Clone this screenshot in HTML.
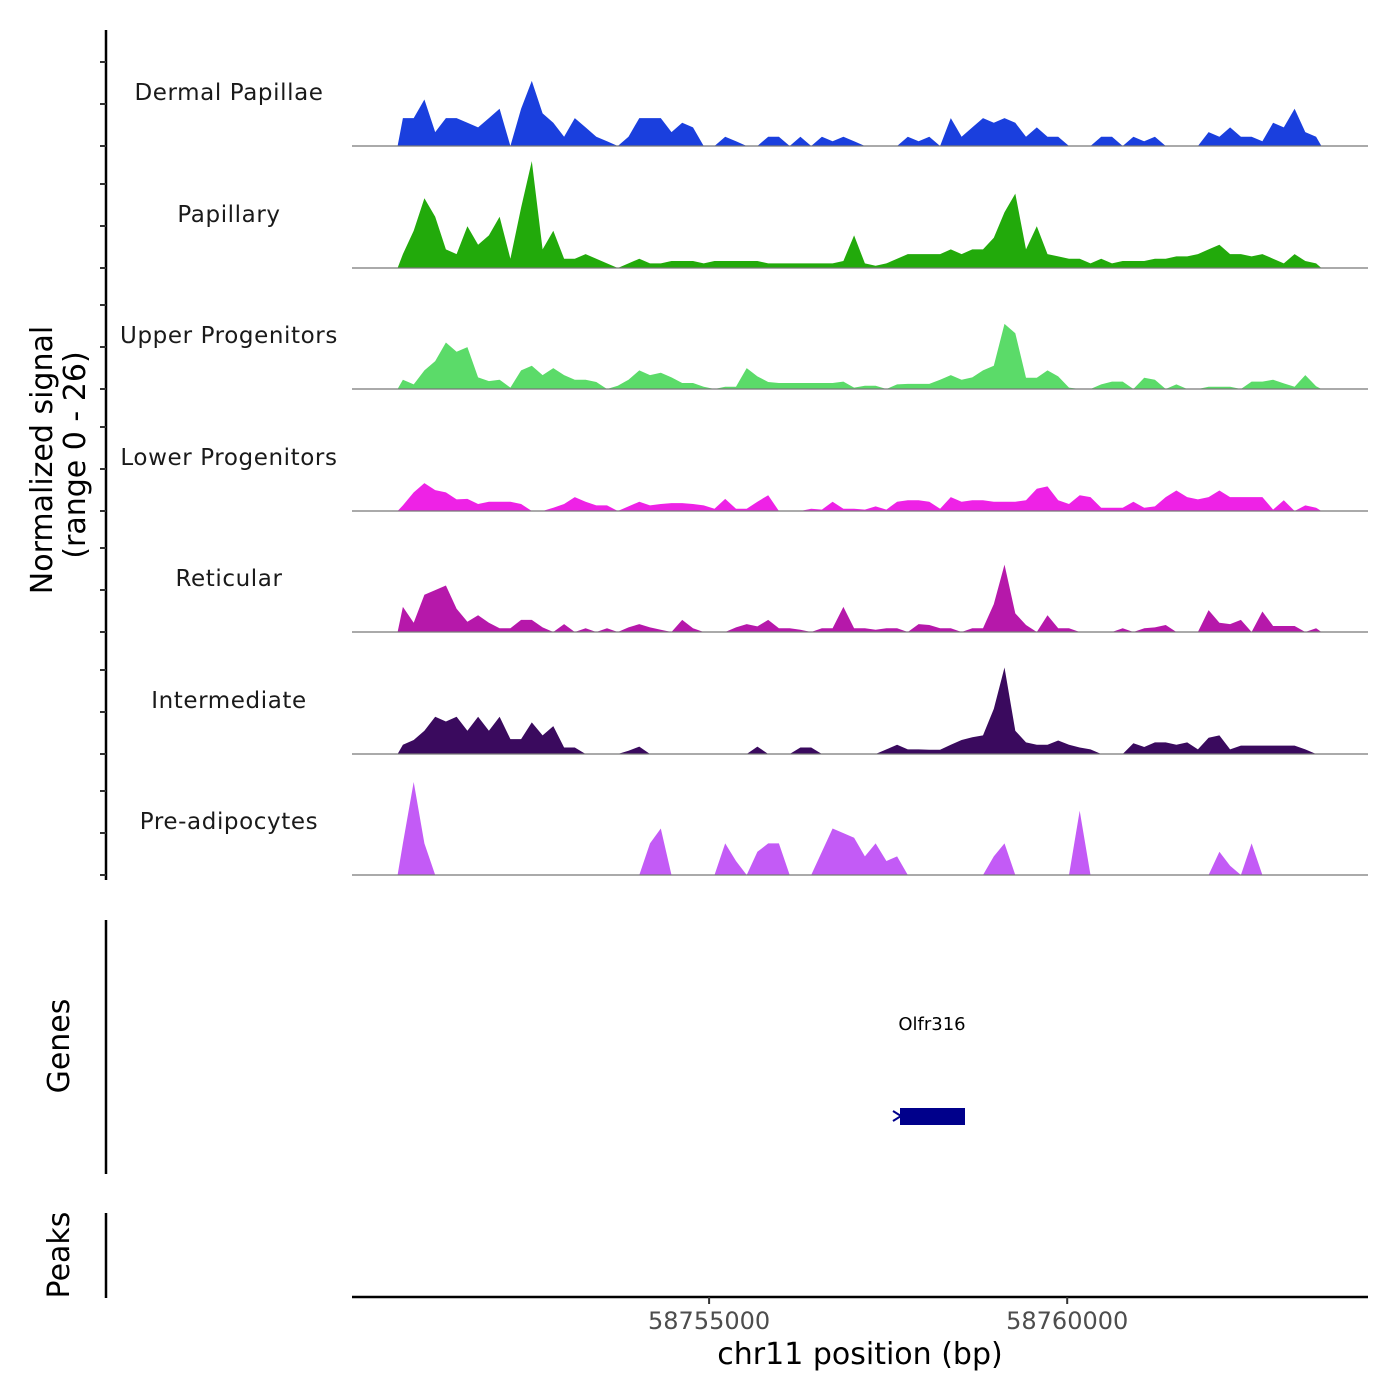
<!DOCTYPE html>
<html><head><meta charset="utf-8"><style>
html,body{margin:0;padding:0;background:#fff;}
svg{display:block;font-family:"DejaVu Sans","Liberation Sans",sans-serif;}
</style></head><body>
<svg id="chart" width="1400" height="1400" viewBox="0 0 1400 1400" xmlns="http://www.w3.org/2000/svg">
<rect width="1400" height="1400" fill="#fff"/>
<g id="tracks"></g>
<line x1="106" y1="30" x2="106" y2="880" stroke="#000" stroke-width="2.5"/>
<g id="yticks"></g>
<text transform="translate(52,460) rotate(-90)" text-anchor="middle" font-size="30" fill="#000">Normalized signal</text>
<text transform="translate(85,455) rotate(-90)" text-anchor="middle" font-size="30" fill="#000">(range 0 - 26)</text>
<line x1="106" y1="920" x2="106" y2="1174" stroke="#000" stroke-width="2.5"/>
<text transform="translate(69,1046) rotate(-90)" text-anchor="middle" font-size="30" fill="#000">Genes</text>
<text x="932" y="1030" text-anchor="middle" font-size="18" fill="#000">Olfr316</text>
<g>
<rect x="900" y="1108" width="65" height="17" fill="#00008B"/>
<path d="M893,1111 L901,1116 L893,1121" stroke="#00008B" stroke-width="2" fill="none"/>
</g>
<line x1="106" y1="1213" x2="106" y2="1298" stroke="#000" stroke-width="2.5"/>
<text transform="translate(69,1255) rotate(-90)" text-anchor="middle" font-size="30" fill="#000">Peaks</text>
<line x1="352" y1="1297" x2="1368" y2="1297" stroke="#000" stroke-width="2.5"/>
<g id="xticks"></g>
<text x="860" y="1364" text-anchor="middle" font-size="30" fill="#000">chr11 position (bp)</text>
</svg>
<script>
const binStart = 58750650;
const binWidth = 150;
const trackNames = ["Dermal Papillae","Papillary","Upper Progenitors","Lower Progenitors","Reticular","Intermediate","Pre-adipocytes"];
const trackColors = ["#1a3fde","#22aa0b","#5bdb69","#ee22e6","#b618aa","#3a0a5e","#c35bf6"];
const dermalPapillae = [6,6,10,3,6,6,5,4,6,8,0,8,14,7,5,2,6,4,2,1,0,2,6,6,6,3,5,4,0,0,2,1,0,0,2,2,0,2,0,2,1,2,1,0,0,0,0,2,1,2,0,6,2,4,6,5,6,5,2,4,2,2,0,0,0,2,2,0,2,1,2,0,0,0,0,3,2,4,2,2,1,5,4,8,3,2];
const papillary = [3,8,15,11,4,3,9,5,7,11,2,13,23,4,8,2,2,3,2,1,0,1,2,1,1,1.5,1.5,1.5,1,1.5,1.5,1.5,1.5,1.5,1,1,1,1,1,1,1,1.5,7,1,0.5,1,2,3,3,3,3,4,3,4,4,6.5,12,16,4,9,3,2.5,2,2,1,2,1,1.5,1.5,1.5,2,2,2.5,2.5,3,4,5,3,3,2.5,3,2,1,3,1.5,1];
const upperProgenitors = [2,1,4,6,10,8,9,2.5,1.7,2,0.3,4,5,3,4.5,3,2,2,1.5,0,0.7,2,4,3,3.5,2.5,1.3,1.3,0.5,0,0.5,0.5,4.5,2.7,1.5,1.3,1.3,1.3,1.3,1.3,1.3,1.6,0.3,0.7,0.7,0,1,1.1,1.1,1.1,2,3,2,2.5,4,5,14,12,2.4,2.4,4,2.7,0.3,0,0,1,1.6,1.6,0,2.4,2,0,1,0,0,0.5,0.5,0.5,0,1.6,1.6,2,1.2,0.5,3,0.6];
const lowerProgenitors = [1.2,4,6,4.5,4,2.5,2.6,1.5,2,2,2,1.5,0,0,0.7,1.5,3,2,1.2,1.2,0,1,2,1.2,1.5,1.7,1.7,1.5,1.2,0.5,2.6,0.5,0.5,2,3.4,0,0,0,0.5,0.3,2,0.5,0.5,0.3,1,0.3,2,2.3,2.3,2,0.5,3,2,2.3,2.3,2,2,2,2.3,4.8,5.3,2.3,1.5,3.4,3,0.7,0.7,0.7,2,0.7,1,3,4.4,3,2.5,3,4.4,3,3,3,3,0.3,2.3,0,1.2,0.7];
const reticular = [5.4,2,8,9,10,5,2.2,3.6,2,0.8,0.8,2.6,2.6,1,0,1.7,0,0.8,0,0.8,0,1,1.7,1,0.5,0,2.6,0.8,0,0,0,1,1.7,1.2,2.6,0.8,0.8,0.5,0,0.8,0.8,5.4,0.8,0.8,0.5,0.8,0.8,0,1.7,1.5,0.8,0.8,0,0.8,0.8,6,14.5,4,1.5,0,3.6,0.8,0.8,0,0,0,0,0.8,0,0.8,1,1.5,0,0,0,4.7,2,1.7,2.6,0,4.4,1.3,1.3,1.3,0,0.8];
const intermediate = [2,3,5,8,7,8,5,8,5,8,3.2,3.2,6.8,4,6,1.4,1.4,0,0,0,0,0.7,1.6,0,0,0,0,0,0,0,0,0,0,1.6,0,0,0,1.4,1.4,0,0,0,0,0,0,1,2,1,1,0.9,0.9,2,3,3.6,4,9.7,18.6,5,2.5,2,2,2.9,2,1.4,1,0,0,0,2.3,1.5,2.5,2.5,2,2.5,1,3.5,4,1,1.8,1.8,1.8,1.8,1.8,1.8,1,0];
const preAdipocytes = [6.8,20,6.8,0,0,0,0,0,0,0,0,0,0,0,0,0,0,0,0,0,0,0,0,6.8,10,0,0,0,0,0,6.8,3,0,5,6.8,6.8,0,0,0,5,10,9,8,4,6.8,3,4,0,0,0,0,0,0,0,0,4,6.8,0,0,0,0,0,0,13.8,0,0,0,0,0,0,0,0,0,0,0,0,5,2,0,6.8,0,0,0,0,0,0];
const trackSeries = [dermalPapillae,papillary,upperProgenitors,lowerProgenitors,reticular,intermediate,preAdipocytes];
const yTickValues = [0,9,18];
const xTickValues = [58755000,58760000];
const xTickLabels = ["58755000","58760000"];

const NS="http://www.w3.org/2000/svg";
const X0=352, X1=1368, G0=58750014, G1=58764200;
function xScale(bp){return X0+(bp-G0)/(G1-G0)*(X1-X0);}
const pxPerUnit=4.65;
const trackBase=[146,268,389,511,632,754,875];
function yScale(v,t){return trackBase[t]-v*pxPerUnit;}

const tg=document.getElementById('tracks');
trackSeries.forEach((vals,t)=>{
  const g=document.createElementNS(NS,'g');
  
  
  const lbl=document.createElementNS(NS,'text');
  
  
  lbl.setAttribute('x',229);lbl.setAttribute('y',trackBase[t]-46);
  lbl.setAttribute('text-anchor','middle');lbl.setAttribute('font-size','23');lbl.setAttribute('fill','#1a1a1a');
  lbl.setAttribute('letter-spacing','0.6');
  lbl.textContent=trackNames[t];g.appendChild(lbl);
  let pts=[];
  pts.push(xScale(binStart).toFixed(1)+','+trackBase[t]);
  vals.forEach((v,i)=>{pts.push(xScale(binStart+(i+0.5)*binWidth).toFixed(1)+','+yScale(v,t).toFixed(1));});
  pts.push(xScale(binStart+vals.length*binWidth).toFixed(1)+','+trackBase[t]);
  const poly=document.createElementNS(NS,'polygon');
  
  
  poly.setAttribute('points',pts.join(' '));poly.setAttribute('fill',trackColors[t]);
  g.appendChild(poly);
  const bl=document.createElementNS(NS,'line');
  
  
  bl.setAttribute('x1',X0);bl.setAttribute('x2',X1);bl.setAttribute('y1',trackBase[t]);bl.setAttribute('y2',trackBase[t]);
  bl.setAttribute('stroke','#777');bl.setAttribute('stroke-width','1.2');
  g.appendChild(bl);
  tg.appendChild(g);
});
const yt=document.getElementById('yticks');
trackBase.forEach((b,t)=>{
  yTickValues.forEach(v=>{
    const l=document.createElementNS(NS,'line');
    
    
    const y=b - v*42/9;
    l.setAttribute('x1',100);l.setAttribute('x2',106);l.setAttribute('y1',y);l.setAttribute('y2',y);
    l.setAttribute('stroke','#333');l.setAttribute('stroke-width','2');yt.appendChild(l);
  });
});
const xt=document.getElementById('xticks');
xTickValues.forEach((v,i)=>{
  const x=xScale(v);
  const l=document.createElementNS(NS,'line');
  
  
  l.setAttribute('x1',x);l.setAttribute('x2',x);l.setAttribute('y1',1297);l.setAttribute('y2',1304);
  l.setAttribute('stroke','#333');l.setAttribute('stroke-width','2');xt.appendChild(l);
  const tx=document.createElementNS(NS,'text');
  
  
  tx.setAttribute('x',x);tx.setAttribute('y',1329);tx.setAttribute('text-anchor','middle');
  tx.setAttribute('font-size','24');tx.setAttribute('fill','#4d4d4d');tx.textContent=xTickLabels[i];xt.appendChild(tx);
});
</script>
</body></html>
